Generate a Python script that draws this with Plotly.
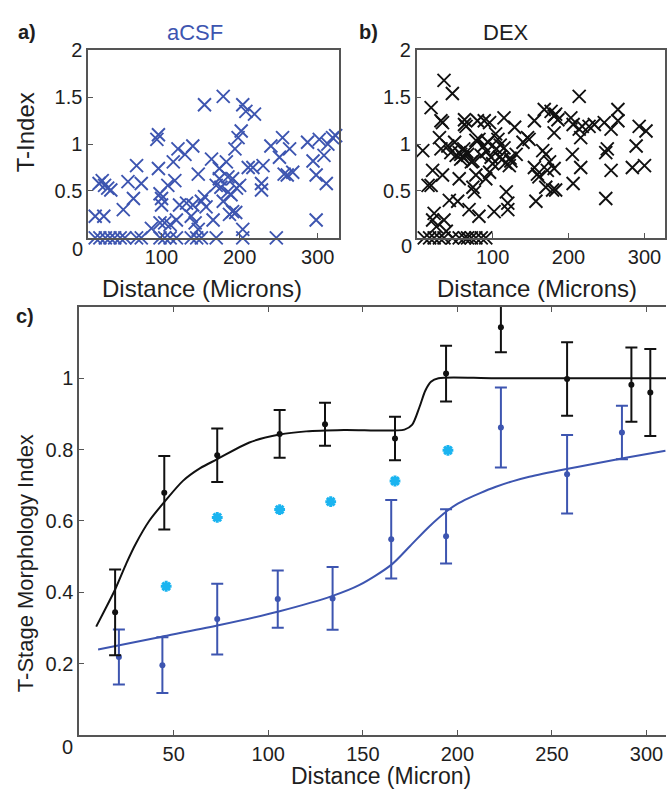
import plotly.graph_objects as go

# ---------------- data ----------------
# panel a (aCSF) scatter
a_x = [15, 21, 28, 34, 40, 47, 53, 68, 74, 98, 104, 111, 119, 138, 145, 151, 170, 204, 247,
       15, 26, 20, 24, 27, 31, 35, 51, 57, 64, 68, 74, 87, 94, 96, 96, 98, 100, 100, 98, 104,
       108, 111, 115, 117, 119, 121, 123, 130, 132, 138, 140, 140, 143, 147, 147, 151, 155, 155,
       157, 164, 166, 170, 174, 179, 179, 183, 185, 187, 191, 196, 194, 198, 200, 202, 204, 208,
       204, 211, 217, 219, 228, 228, 230, 240, 251, 255, 257, 261, 264, 268, 287, 294, 298, 298,
       302, 308, 311, 313, 319, 323, 174, 176, 189, 185, 191, 195]
a_y = [0, 0, 0, 0, 0, 0, 0, 0, 0, 0, 0, 0, 0, 0, 0, 0, 0, 0, 0,
       0.23, 0.23, 0.58, 0.61, 0.56, 0.53, 0.51, 0.30, 0.60, 0.42, 0.77, 0.58, 0.10, 1.05, 1.10,
       0.74, 0.47, 0.42, 0.35, 0.16, 0.16, 0.56, 0.14, 0.81, 0.61, 0.19, 0.95, 0.35, 0.89, 0.37,
       0.23, 0.98, 0.35, 0.16, 0.68, 0.09, 0.39, 1.42, 0.44, 0.33, 0.84, 0.19, 0.56, 0.74, 1.51,
       0.39, 0.81, 0.65, 0.25, 0.28, 0.53, 0.95, 1.07, 0.56, 1.14, 1.42, 1.35, 0.09, 0.75, 0.75,
       1.32, 0.58, 0.51, 0.77, 0.98, 0.86, 1.07, 0.68, 0.67, 0.95, 0.70, 1.02, 0.82, 0.67, 0.19,
       1.05, 0.88, 0.58, 1.00, 1.07, 1.09, 0.63, 0.54, 0.46, 0.49, 0.63, 0.27]

# panel b (DEX) scatter
b_x = [10, 17, 23, 30, 36, 47, 56, 63, 67, 72, 78, 85, 91,
       8, 19, 15, 19, 21, 21, 23, 26, 30, 32, 34, 32, 34, 36, 39, 36, 47, 43, 41, 45, 50, 52,
       54, 56, 56, 58, 61, 58, 63, 63, 65, 67, 69, 72, 74, 74, 76, 78, 78, 80, 82, 82, 85, 89,
       91, 94, 96, 96, 98, 100, 102, 104, 107, 109, 113, 115, 115, 118, 120, 120, 122, 124, 129,
       131, 140, 146, 148, 155, 155, 157, 159, 161, 166, 168, 170, 170, 172, 175, 177, 181, 183,
       179, 181, 181, 183, 186, 203, 205, 206, 206, 214, 214, 216, 216, 218, 227, 234, 247, 249,
       249, 251, 256, 256, 265, 265, 284, 289, 293, 300, 302,
       62, 66, 88, 92, 105, 110, 117, 123]
b_y = [0, 0, 0, 0, 0, 0, 0, 0, 0, 0, 0, 0, 0,
       0.93, 1.39, 0.56, 0.56, 0.72, 0.19, 0.26, 0.12, 1.07, 1.25, 1.23, 0.95, 0.67, 0.19, 0.07,
       1.68, 1.54, 0.40, 0.98, 0.91, 1.02, 0.88, 0.39, 0.63, 0.91, 0.89, 0.86, 0.84, 1.26, 1.21,
       1.19, 0.89, 0.30, 0.81, 0.82, 0.54, 0.49, 0.67, 1.04, 1.25, 0.23, 1.05, 0.88, 1.25, 0.63,
       1.02, 1.23, 0.70, 0.86, 0.79, 0.28, 1.11, 1.05, 0.86, 0.84, 1.28, 0.96, 0.49, 0.37, 0.30,
       0.77, 0.82, 1.18, 0.89, 1.02, 1.07, 1.05, 1.25, 0.75, 0.39, 0.68, 0.65, 0.93, 1.37, 0.89,
       0.54, 0.72, 0.81, 1.35, 1.30, 1.32, 0.51, 0.74, 1.12, 0.51, 1.26, 1.28, 0.89, 0.58, 1.21,
       1.51, 1.16, 1.07, 0.75, 1.19, 1.19, 1.21, 1.23, 0.91, 0.42, 0.95, 1.16, 0.72, 1.37, 1.25,
       0.75, 0.98, 1.19, 0.77, 1.14,
       0.95, 0.92, 0.98, 0.92, 0.95, 0.99, 0.80, 0.85]

# panel c: DEX means (black), aCSF means (blue), cyan asterisks, fitted curves
c_black_x = [19, 45, 73, 106, 130, 167, 194, 223, 258, 292, 302]
c_black_y = [0.344, 0.679, 0.784, 0.844, 0.871, 0.831, 1.013, 1.143, 0.998, 0.982, 0.960]
c_black_err = [0.12, 0.103, 0.075, 0.067, 0.06, 0.061, 0.078, 0.07, 0.103, 0.104, 0.122]

c_blue_x = [21, 44, 73, 105, 134, 165, 194, 223, 258, 287]
c_blue_y = [0.219, 0.196, 0.325, 0.381, 0.383, 0.549, 0.557, 0.862, 0.731, 0.848]
c_blue_err = [0.077, 0.078, 0.099, 0.080, 0.088, 0.110, 0.076, 0.112, 0.110, 0.075]

c_star_x = [46, 73, 106, 133, 167, 195]
c_star_y = [0.417, 0.610, 0.632, 0.654, 0.712, 0.798]

fit_black_x = [9, 13, 19, 25, 30, 37, 45, 55, 64, 73, 90, 106, 120, 140, 172, 176, 180, 183,
               186, 190, 220, 311]
fit_black_y = [0.304, 0.345, 0.408, 0.482, 0.537, 0.600, 0.653, 0.713, 0.748, 0.773, 0.820,
               0.842, 0.851, 0.855, 0.856, 0.869, 0.920, 0.965, 0.990, 1.0, 1.0, 1.0]

fit_blue_x = [10, 43, 73, 106, 134, 148, 165, 175, 185, 195, 200, 206, 212, 220, 229, 238,
              257, 273, 289, 310]
fit_blue_y = [0.240, 0.275, 0.307, 0.347, 0.390, 0.420, 0.477, 0.530, 0.584, 0.630, 0.648,
              0.664, 0.678, 0.695, 0.711, 0.724, 0.745, 0.761, 0.777, 0.797]

# ---------------- style ----------------
W, H = 667, 791
FONT = "Liberation Sans, Arial, Helvetica, sans-serif"
BLUE = "#3d55b0"
CYAN = "#1ab4f0"
AXC = "#555555"
TXT = "#1e1e1e"


def fx(px):
    return px / W


def fy(py):
    return 1 - py / H


fig = go.Figure()

fig.add_trace(go.Scatter(x=a_x, y=a_y, mode="markers", xaxis="x", yaxis="y",
                         marker=dict(symbol="x-thin-open", size=13, color=BLUE,
                                     line=dict(width=1.9, color=BLUE)),
                         cliponaxis=False, showlegend=False))
fig.add_trace(go.Scatter(x=b_x, y=b_y, mode="markers", xaxis="x2", yaxis="y2",
                         marker=dict(symbol="x-thin-open", size=13, color="#111111",
                                     line=dict(width=1.9, color="#111111")),
                         cliponaxis=False, showlegend=False))

# panel c
fig.add_trace(go.Scatter(x=fit_black_x, y=fit_black_y, mode="lines", xaxis="x3", yaxis="y3",
                         line=dict(color="#111111", width=2, shape="spline", smoothing=0.8),
                         showlegend=False))
fig.add_trace(go.Scatter(x=fit_blue_x, y=fit_blue_y, mode="lines", xaxis="x3", yaxis="y3",
                         line=dict(color=BLUE, width=2, shape="spline", smoothing=0.8),
                         showlegend=False))
fig.add_trace(go.Scatter(x=c_blue_x, y=c_blue_y, mode="markers", xaxis="x3", yaxis="y3",
                         marker=dict(symbol="circle", size=6, color=BLUE),
                         error_y=dict(type="data", array=c_blue_err, color=BLUE,
                                      thickness=2, width=6),
                         showlegend=False))
fig.add_trace(go.Scatter(x=c_black_x, y=c_black_y, mode="markers", xaxis="x3", yaxis="y3",
                         marker=dict(symbol="circle", size=6, color="#111111"),
                         error_y=dict(type="data", array=c_black_err, color="#111111",
                                      thickness=2, width=6),
                         showlegend=False))
fig.add_trace(go.Scatter(x=c_star_x, y=c_star_y, mode="markers", xaxis="x3", yaxis="y3",
                         marker=dict(symbol="asterisk-open", size=9, color=CYAN,
                                     line=dict(width=3, color=CYAN)),
                         showlegend=False))

tickfont = dict(family=FONT, size=20, color=TXT)
common_ax = dict(showline=True, linecolor=AXC, linewidth=1.5, mirror=True, ticks="inside",
                 ticklen=5, tickcolor=AXC, tickwidth=1.2, showgrid=False, zeroline=False,
                 tickfont=tickfont)

yA_dom = [fy(230), fy(40)]
fig.update_layout(
    width=W, height=H, margin=dict(l=0, r=0, t=0, b=0),
    paper_bgcolor="white", plot_bgcolor="white",
    xaxis=dict(domain=[fx(88.3), fx(339.3)], range=[6, 327], anchor="y",
               tickvals=[100, 200, 300], **common_ax),
    yaxis=dict(domain=yA_dom, range=[0, 2], anchor="x",
               tickvals=[0, 0.5, 1, 1.5, 2], ticktext=["", "0.5", "1", "1.5", "2"], **common_ax),
    xaxis2=dict(domain=[fx(417.3), fx(666)], range=[0, 327], anchor="y2",
                tickvals=[100, 200, 300], **common_ax),
    yaxis2=dict(domain=yA_dom, range=[0, 2], anchor="x2",
                tickvals=[0, 0.5, 1, 1.5, 2], ticktext=["", "0.5", "1", "1.5", "2"], **common_ax),
    xaxis3=dict(domain=[fx(79.3), 1.0], range=[0, 310.3], anchor="y3",
                tickvals=[50, 100, 150, 200, 250, 300],
                **{**common_ax, "mirror": "ticks"}),
    yaxis3=dict(domain=[fy(734.3), fy(300)], range=[0, 1.2], anchor="x3",
                tickvals=[0, 0.2, 0.4, 0.6, 0.8, 1.0], ticktext=["", "0.2", "0.4", "0.6", "0.8", "1"],
                **{**common_ax, "mirror": False}),
    yaxis4=dict(domain=[fy(734.3), fy(300)], range=[0, 1.2], anchor="x3", overlaying="y3",
                side="right", showline=False, ticks="inside", ticklen=5, tickcolor=AXC,
                tickwidth=1.2, showticklabels=False, showgrid=False, zeroline=False,
                tickvals=[0.2, 0.4, 0.6, 0.8, 1.0]),
)

ann = []


def txt(t, px, py, size=22, color=TXT, bold=False, angle=0):
    ann.append(dict(text=("<b>%s</b>" % t) if bold else t, x=fx(px), y=fy(py),
                    xref="paper", yref="paper", showarrow=False, textangle=angle,
                    xanchor="center", yanchor="middle",
                    font=dict(family=FONT, size=size, color=color)))


txt("a)", 27, 21, size=20, bold=True)
txt("b)", 369, 21, size=20, bold=True)
txt("c)", 25, 309, size=20, bold=True)
txt("aCSF", 195, 22, color=BLUE)
txt("DEX", 507, 22)
txt("T-Index", 25, 123, size=24, angle=-90)
txt("Distance (Microns)", 202, 281, size=24)
txt("Distance (Microns)", 538, 281, size=24)
txt("T-Stage Morphology Index", 25, 560, angle=-90)
txt("Distance (Micron)", 382, 776, size=23)
txt("0", 78, 241, size=20)
txt("0", 407, 238, size=20)
txt("0", 68, 746, size=20)
fig.update_layout(annotations=ann)

pin = ("document.body.style.margin='0';document.body.style.overflow='hidden';"
       "var gd=document.getElementById('{plot_id}');gd.style.position='fixed';"
       "gd.style.left='0px';gd.style.top='0px';")
fig.write_html("out.html", post_script=pin, config={"displayModeBar": False})
